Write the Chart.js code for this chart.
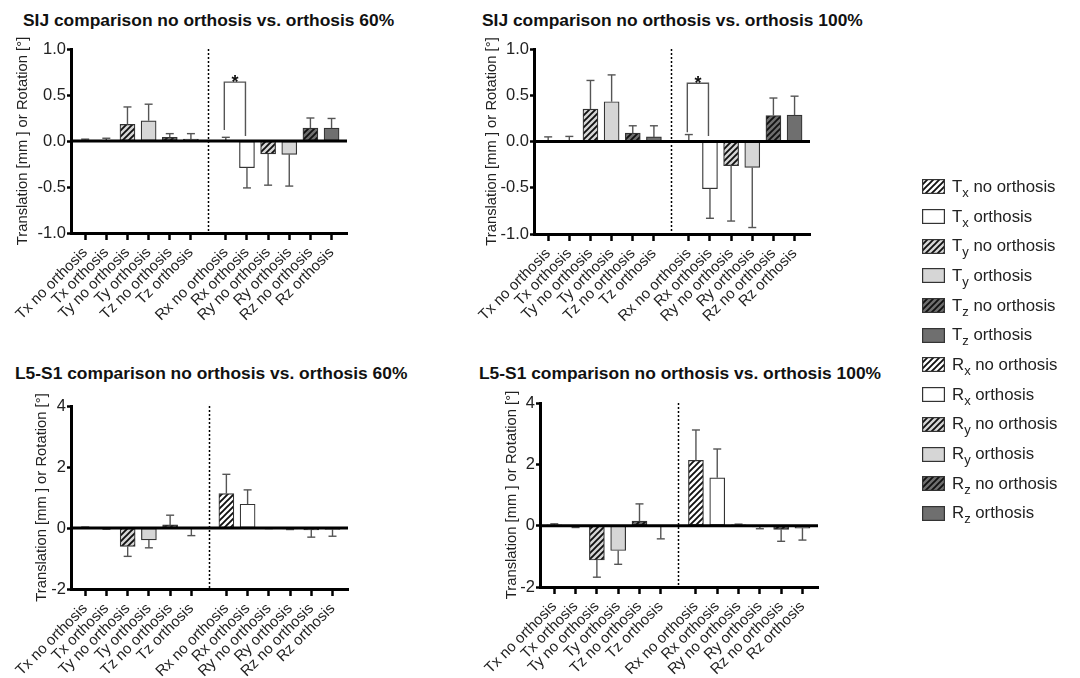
<!DOCTYPE html>
<html>
<head>
<meta charset="utf-8">
<script src="https://cdn.jsdelivr.net/npm/chart.js@4.4.0/dist/chart.umd.min.js"></script>
<style>
  body { margin: 0; background: #fff; width: 1080px; height: 678px; position: relative; overflow: hidden;
         font-family: "Liberation Sans", Arial, sans-serif; color: #111; }
  .title { position: absolute; font-weight: bold; font-size: 17.4px; white-space: nowrap; line-height: 20px; }
  canvas.panel { position: absolute; }
  #legend { position: absolute; left: 922px; top: 172px; }
  .item { height: 29.7px; display: flex; align-items: center; font-size: 16.8px; white-space: nowrap; color: #222; }
  .item canvas { margin-right: 7px; }
  .item sub { font-size: 13px; vertical-align: -5px; line-height: 0; }
</style>
</head>
<body>
<div class="title" style="left:23px; top:10px">SIJ comparison no orthosis vs. orthosis 60%</div>
<div class="title" style="left:482px; top:10px">SIJ comparison no orthosis vs. orthosis 100%</div>
<div class="title" style="left:15px; top:363px">L5-S1 comparison no orthosis vs. orthosis 60%</div>
<div class="title" style="left:479px; top:363px">L5-S1 comparison no orthosis vs. orthosis 100%</div>
<canvas id="p1" class="panel"></canvas>
<canvas id="p2" class="panel"></canvas>
<canvas id="p3" class="panel"></canvas>
<canvas id="p4" class="panel"></canvas>
<div id="legend"></div>

<script>
// categories and values (mean, one-sided SD)
const categories = ["Tx no orthosis", "Tx orthosis", "Ty no orthosis", "Ty orthosis", "Tz no orthosis", "Tz orthosis",
                    "Rx no orthosis", "Rx orthosis", "Ry no orthosis", "Ry orthosis", "Rz no orthosis", "Rz orthosis"];

const sij60Mean = [0.005, 0.005, 0.18, 0.22, 0.04, 0.02, 0.005, -0.29, -0.14, -0.145, 0.14, 0.14];
const sij60Sd   = [0.015, 0.025, 0.19, 0.18, 0.04, 0.06, 0.035, 0.22, 0.34, 0.345, 0.11, 0.105];

const sij100Mean = [0.005, 0.005, 0.35, 0.43, 0.09, 0.05, 0.01, -0.51, -0.26, -0.28, 0.28, 0.285];
const sij100Sd   = [0.045, 0.05, 0.31, 0.29, 0.08, 0.12, 0.065, 0.32, 0.60, 0.65, 0.19, 0.205];

const l5s160Mean = [0.02, -0.02, -0.6, -0.39, 0.1, -0.01, 1.13, 0.78, -0.01, -0.03, -0.06, -0.05];
const l5s160Sd   = [0.01, 0.02, 0.33, 0.26, 0.32, 0.24, 0.63, 0.47, 0.01, 0.02, 0.24, 0.22];

const l5s1100Mean = [0.03, -0.03, -1.12, -0.81, 0.15, -0.02, 2.13, 1.56, 0.03, -0.04, -0.12, -0.08];
const l5s1100Sd   = [0.03, 0.03, 0.56, 0.45, 0.56, 0.41, 0.99, 0.94, 0.02, 0.06, 0.39, 0.39];

const sijTicks = [-1.0, -0.5, 0.0, 0.5, 1.0];
const l5s1Ticks = [-2, 0, 2, 4];

// significance brackets (Rx no orthosis vs Rx orthosis)
const sij60Sig = { from: 6, to: 7, top: 0.64, leftEnd: 0.12, rightEnd: 0.055 };
const sij100Sig = { from: 6, to: 7, top: 0.63, leftEnd: 0.1, rightEnd: 0.06 };

const legendLabels = [["T", "x", "no orthosis"], ["T", "x", "orthosis"], ["T", "y", "no orthosis"], ["T", "y", "orthosis"],
                      ["T", "z", "no orthosis"], ["T", "z", "orthosis"], ["R", "x", "no orthosis"], ["R", "x", "orthosis"],
                      ["R", "y", "no orthosis"], ["R", "y", "orthosis"], ["R", "z", "no orthosis"], ["R", "z", "orthosis"]];

const yTitle = "Translation [mm ] or Rotation [°]";
const FONT = '"Liberation Sans", Arial, sans-serif';
const GAP = 0.65;          // extra space between translation and rotation groups
const baseColors = ["#ffffff", "#ffffff", "#d6d6d6", "#d6d6d6", "#6f6f6f", "#6f6f6f"];

const xPos = i => i + (i >= 6 ? GAP : 0);

function hatch(ctx, bg) {
    const s = 6;
    const c = document.createElement("canvas");
    c.width = c.height = s;
    const g = c.getContext("2d");
    g.fillStyle = bg;
    g.fillRect(0, 0, s, s);
    g.strokeStyle = "#111";
    g.lineWidth = 1.9;
    g.beginPath();
    g.moveTo(-1, s + 1); g.lineTo(s + 1, -1);
    g.moveTo(-s / 2 - 1, s / 2 + 1); g.lineTo(s / 2 + 1, -s / 2 - 1);
    g.moveTo(s / 2 - 1, s * 1.5 + 1); g.lineTo(s * 1.5 + 1, s / 2 - 1);
    g.stroke();
    return ctx.createPattern(c, "repeat");
}

function fillFor(ctx, i) {
    const k = i % 6;
    return k % 2 === 0 ? hatch(ctx, baseColors[k]) : baseColors[k];
}

const extras = {
    id: "extras",
    afterDatasetsDraw(chart, args, o) {
        const { ctx, chartArea: a, scales: { x, y } } = chart;
        ctx.save();
        const line = (x1, y1, x2, y2) => { ctx.beginPath(); ctx.moveTo(x1, y1); ctx.lineTo(x2, y2); ctx.stroke(); };

        // one-sided error bars
        ctx.strokeStyle = "#555";
        ctx.lineWidth = 1.4;
        o.mean.forEach((m, i) => {
            const px = x.getPixelForValue(xPos(i));
            const end = m < 0 ? m - o.sd[i] : m + o.sd[i];
            const y0 = y.getPixelForValue(m), y1 = y.getPixelForValue(end);
            line(px, y0, px, y1);
            line(px - 4, y1, px + 4, y1);
        });

        // zero line
        const z = y.getPixelForValue(0);
        ctx.strokeStyle = "#000";
        ctx.lineWidth = 3;
        line(a.left, z, a.right, z);

        // dotted separator
        const dx = Math.round(x.getPixelForValue(5 + (1 + GAP) / 2)) + 0.5;
        ctx.lineWidth = 1.5;
        ctx.setLineDash([2, 2]);
        line(dx, a.top, dx, a.bottom);
        ctx.setLineDash([]);

        // significance bracket
        if (o.sig) {
            const s = o.sig;
            const x1 = x.getPixelForValue(xPos(s.from)) - 1.5, x2 = x.getPixelForValue(xPos(s.to)) - 1.5;
            const yt = y.getPixelForValue(s.top);
            ctx.strokeStyle = "#555";
            ctx.lineWidth = 1.4;
            ctx.beginPath();
            ctx.moveTo(x1, y.getPixelForValue(s.leftEnd));
            ctx.lineTo(x1, yt);
            ctx.lineTo(x2, yt);
            ctx.lineTo(x2, y.getPixelForValue(s.rightEnd));
            ctx.stroke();
            ctx.fillStyle = "#111";
            ctx.font = "bold 18px " + FONT;
            ctx.textAlign = "center";
            ctx.textBaseline = "alphabetic";
            ctx.fillText("*", (x1 + x2) / 2, yt + 5.5);
        }
        ctx.restore();
    }
};

function makePanel(id, p) {
    const cv = document.getElementById(id);
    const padT = 14, padR = 15, xH = 100;
    const yW = p.area.l - p.left;
    const w = p.area.r - p.left + padR;
    const h = p.area.b - p.top + xH;
    cv.width = w; cv.height = h;
    cv.style.left = p.left + "px";
    cv.style.top = (p.area.t - padT) + "px";
    cv.style.width = w + "px";
    cv.style.height = h + "px";
    const ctx = cv.getContext("2d");
    const pts = p.mean.map((m, i) => ({ x: xPos(i), y: m }));

    new Chart(ctx, {
        type: "bar",
        data: {
            datasets: [{
                data: pts,
                backgroundColor: p.mean.map((_, i) => fillFor(ctx, i)),
                borderColor: "#333",
                borderWidth: 1.2,
                borderSkipped: false,
                barThickness: 15
            }]
        },
        options: {
            responsive: false,
            animation: false,
            devicePixelRatio: 1,
            layout: { padding: { top: padT, right: padR, left: 0, bottom: 0 } },
            plugins: {
                legend: { display: false },
                tooltip: { enabled: false },
                extras: { mean: p.mean, sd: p.sd, sig: p.sig }
            },
            scales: {
                x: {
                    type: "linear",
                    min: -0.67, max: 12.38,
                    offset: false,
                    grid: { drawOnChartArea: false, offset: false, tickLength: 7, tickWidth: 2.5, tickColor: "#000" },
                    border: { display: true, width: 3, color: "#000" },
                    afterBuildTicks: s => { s.ticks = categories.map((_, i) => ({ value: xPos(i) })); },
                    ticks: {
                        autoSkip: false, minRotation: 45, maxRotation: 45, padding: 4,
                        color: "#222", font: { family: FONT, size: 15 },
                        callback: (v, i) => categories[i]
                    },
                    afterFit: s => { s.height = xH; s.paddingLeft = 0; s.paddingRight = 0; }
                },
                y: {
                    min: p.ticks[0], max: p.ticks[p.ticks.length - 1],
                    afterBuildTicks: s => { s.ticks = p.ticks.map(v => ({ value: v })); },
                    grid: { drawOnChartArea: false, tickLength: 4, tickWidth: 2.5, tickColor: "#000" },
                    border: { display: true, width: 3, color: "#000" },
                    ticks: {
                        padding: 1, color: "#222", font: { family: FONT, size: 16.5 },
                        callback: v => p.decimals ? v.toFixed(1) : String(v)
                    },
                    title: {
                        display: true, text: yTitle, color: "#222",
                        font: { family: FONT, size: 14.8, lineHeight: 1.2 },
                        padding: { top: p.titleX - p.left - 8.9, bottom: 0 }
                    },
                    afterFit: s => { s.width = yW; }
                }
            }
        },
        plugins: [extras]
    });
}

makePanel("p1", { left: 0, area: { l: 71, t: 49, r: 347, b: 233 }, top: 35, titleX: 22.7,
                  mean: sij60Mean, sd: sij60Sd, ticks: sijTicks, decimals: true, sig: sij60Sig });
makePanel("p2", { left: 460, area: { l: 534, t: 49, r: 810, b: 234 }, top: 35, titleX: 491.5,
                  mean: sij100Mean, sd: sij100Sd, ticks: sijTicks, decimals: true, sig: sij100Sig });
makePanel("p3", { left: 0, area: { l: 71, t: 405.7, r: 348, b: 589.3 }, top: 391.7, titleX: 41.5,
                  mean: l5s160Mean, sd: l5s160Sd, ticks: l5s1Ticks, decimals: false, sig: null });
makePanel("p4", { left: 460, area: { l: 540, t: 402.7, r: 818, b: 586.7 }, top: 388.7, titleX: 511.7,
                  mean: l5s1100Mean, sd: l5s1100Sd, ticks: l5s1Ticks, decimals: false, sig: null });

// legend
const legend = document.getElementById("legend");
legendLabels.forEach((lab, i) => {
    const row = document.createElement("div");
    row.className = "item";
    const sw = document.createElement("canvas");
    sw.width = 23; sw.height = 15;
    const g = sw.getContext("2d");
    g.fillStyle = fillFor(g, i);
    g.fillRect(0, 0, 23, 15);
    g.strokeStyle = "#333";
    g.lineWidth = 1.2;
    g.strokeRect(0.6, 0.6, 21.8, 13.8);
    row.appendChild(sw);
    const t = document.createElement("span");
    t.innerHTML = lab[0] + "<sub>" + lab[1] + "</sub> " + lab[2];
    row.appendChild(t);
    legend.appendChild(row);
});
</script>
</body>
</html>
